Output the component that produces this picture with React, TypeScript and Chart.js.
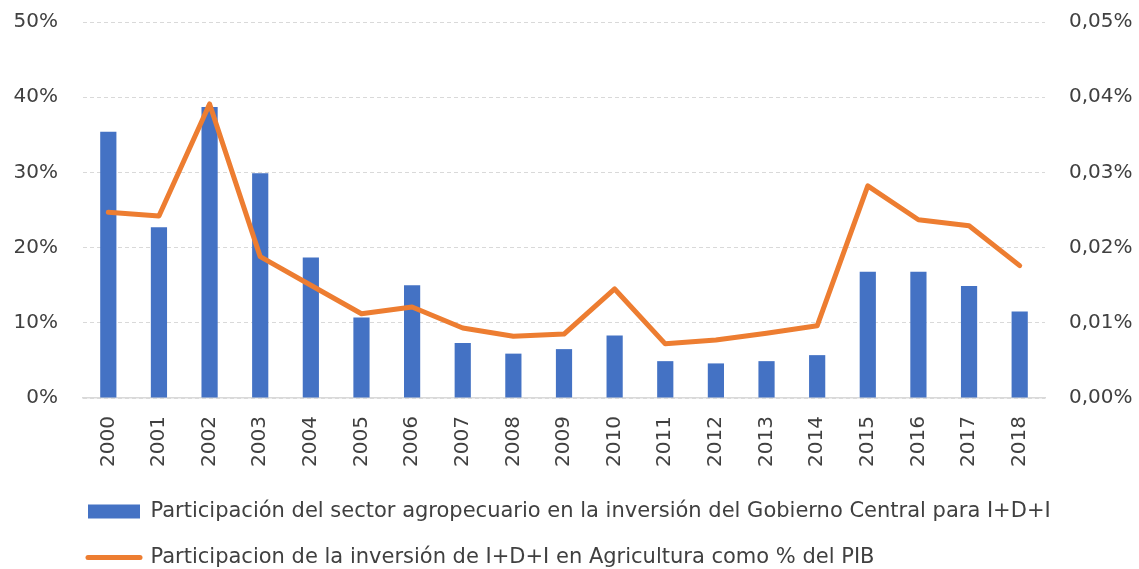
import React, { useEffect, useRef } from "react";
import { Chart, registerables } from "chart.js";

Chart.register(...registerables);

const years = ["2000","2001","2002","2003","2004","2005","2006","2007","2008","2009","2010","2011","2012","2013","2014","2015","2016","2017","2018"];
const sectorShare = [35.4, 22.7, 38.7, 29.9, 18.7, 10.7, 15.0, 7.3, 5.9, 6.5, 8.3, 4.9, 4.6, 4.9, 5.7, 16.8, 16.8, 14.9, 11.5];
const gdpShare = [0.0247, 0.0242, 0.0391, 0.0188, 0.0150, 0.0112, 0.0121, 0.0093, 0.0082, 0.0085, 0.0145, 0.0072, 0.0077, 0.0086, 0.0096, 0.0282, 0.0237, 0.0229, 0.0176];
const barLabel = "Participación del sector agropecuario en la inversión del Gobierno Central para I+D+I";
const lineLabel = "Participacion de la inversión de I+D+I en Agricultura como % del PIB";

const BLUE = "#4472C4";
const ORANGE = "#ED7D31";
const TEXT = "#404040";
const AXIS_FONT = "'DejaVu Sans', Verdana, sans-serif";

const legendShift = {
  id: "legendShift",
  afterLayout(chart: any) {
    if (chart.legend) chart.legend.left = 63;
  },
};

export default function App() {
  const ref = useRef<HTMLCanvasElement | null>(null);
  useEffect(() => {
    if (!ref.current) return;
    const chart = new Chart(ref.current, {
      type: "bar",
      data: {
        labels: years,
        datasets: [
          {
            type: "bar",
            label: barLabel,
            data: sectorShare,
            backgroundColor: BLUE,
            borderWidth: 0,
            barPercentage: 0.32,
            categoryPercentage: 1,
            yAxisID: "y",
            order: 1,
          },
          {
            type: "line",
            label: lineLabel,
            data: gdpShare,
            borderColor: ORANGE,
            backgroundColor: ORANGE,
            borderWidth: 5,
            borderJoinStyle: "round",
            borderCapStyle: "round",
            pointRadius: 0,
            tension: 0,
            yAxisID: "y1",
            order: 0,
          } as any,
        ],
      },
      plugins: [legendShift],
      options: {
        animation: false,
        responsive: true,
        maintainAspectRatio: false,
        layout: { padding: { left: 0, right: 0, top: 22, bottom: 0 } },
        plugins: {
          tooltip: { enabled: false },
          legend: {
            position: "bottom",
            align: "start",
            labels: {
              usePointStyle: true,
              pointStyleWidth: 52,
              boxHeight: 14,
              padding: 25,
              color: TEXT,
              font: { family: AXIS_FONT, size: 21 },
              generateLabels: () => [
                { text: barLabel, fillStyle: BLUE, strokeStyle: BLUE, lineWidth: 0, pointStyle: "rect", datasetIndex: 0, fontColor: TEXT } as any,
                { text: lineLabel, fillStyle: ORANGE, strokeStyle: ORANGE, lineWidth: 5, lineCap: "round", pointStyle: "line", datasetIndex: 1, fontColor: TEXT } as any,
              ],
            },
          },
        },
        scales: {
          x: {
            grid: { display: false, drawTicks: false },
            border: { display: true, color: "#d9d9d9", width: 1.5 },
            ticks: {
              minRotation: 90,
              maxRotation: 90,
              padding: 18,
              color: TEXT,
              font: { family: AXIS_FONT, size: 20 },
            },
            afterFit: (s: any) => { s.height = 78; },
          },
          y: {
            position: "left",
            min: 0,
            max: 50,
            grid: { color: "#d9d9d9", drawTicks: false, lineWidth: 1 },
            border: { display: false, dash: [4, 3] },
            ticks: {
              stepSize: 10,
              padding: 25,
              color: TEXT,
              font: { family: AXIS_FONT, size: 20 },
              callback: (v: any) => `${Math.round(Number(v))}%`,
            },
            afterFit: (s: any) => { s.width = 83; s.paddingTop = 12; s.paddingBottom = 12; },
          },
          y1: {
            position: "right",
            min: 0,
            max: 0.05,
            grid: { display: false, drawTicks: false },
            border: { display: false },
            ticks: {
              stepSize: 0.01,
              padding: 24,
              color: TEXT,
              font: { family: AXIS_FONT, size: 20 },
              callback: (v: any) => `${Number(v).toFixed(2).replace(".", ",")}%`,
            },
            afterFit: (s: any) => { s.width = 94; s.paddingTop = 12; s.paddingBottom = 12; },
          },
        },
      },
    });
    return () => chart.destroy();
  }, []);
  return (
    <div style={{ position: "fixed", left: 0, top: 0, width: 1139, height: 578, background: "#fff" }}>
      <canvas ref={ref} />
    </div>
  );
}
